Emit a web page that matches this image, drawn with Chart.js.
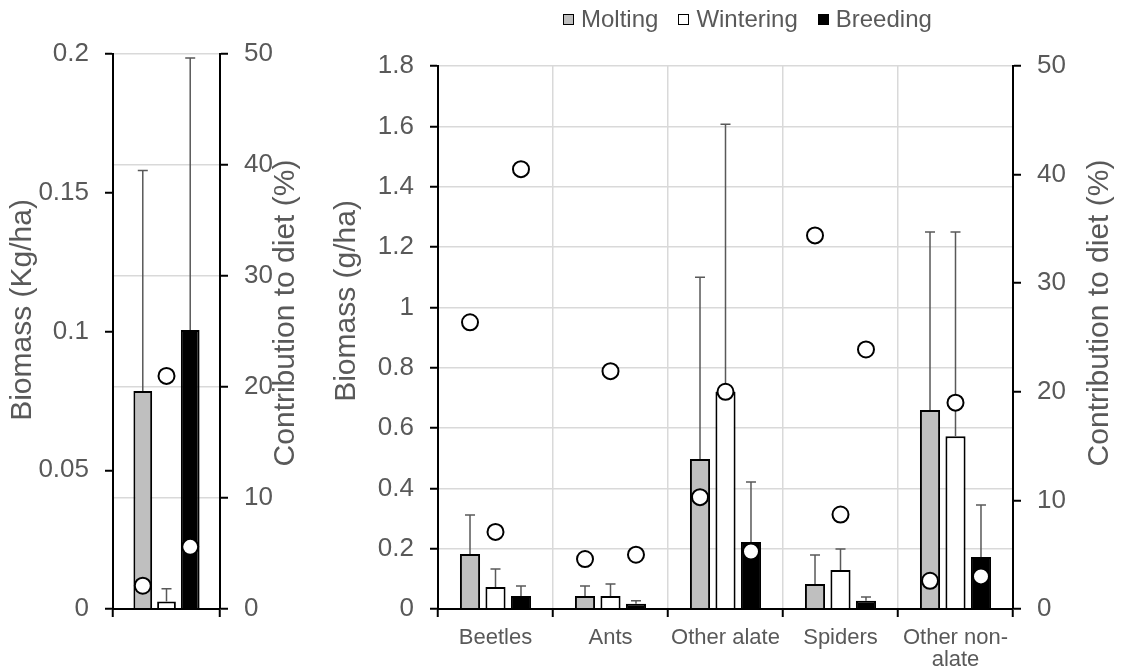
<!DOCTYPE html>
<html>
<head>
<meta charset="utf-8">
<title>Biomass and contribution to diet</title>
<script src="https://cdn.jsdelivr.net/npm/chart.js@4.4.1/dist/chart.umd.min.js"></script>
<style>
  body { margin: 0; width: 1123px; height: 672px; overflow: hidden; background: #fff;
         font-family: "Liberation Sans", Arial, sans-serif; }
  #leftPanel { position: absolute; left: 0; top: 0; }
  #mainPanel { position: absolute; left: 320px; top: 0; }
  #legend { position: absolute; left: 563px; top: 7px; display: flex; align-items: center;
            font-size: 24px; line-height: 24px; color: #595959; white-space: nowrap; }
  #legend .item { display: flex; align-items: center; margin-right: 20px; }
  #legend .box { width: 9px; height: 9px; border: 1.5px solid #000; margin-right: 7px; }
</style>
</head>
<body>
<canvas id="leftPanel" width="320" height="672"></canvas>
<canvas id="mainPanel" width="803" height="672"></canvas>
<div id="legend"></div>
<script>
// prey groups and seasons
const categories = ['Beetles', 'Ants', 'Other alate', 'Spiders', ['Other non-', 'alate']];
const seasons = ['Molting', 'Wintering', 'Breeding'];
const seasonColors = ['#bfbfbf', '#ffffff', '#000000'];

// biomass (g/ha) per prey group, mean and SD
const moltingBiomass   = [0.182, 0.043, 0.497, 0.083, 0.660];
const winteringBiomass = [0.073, 0.043, 0.720, 0.129, 0.573];
const breedingBiomass  = [0.043, 0.017, 0.222, 0.027, 0.172];
const moltingSD   = [0.130, 0.033, 0.603, 0.096, 0.590];
const winteringSD = [0.060, 0.040, 0.887, 0.070, 0.677];
const breedingSD  = [0.033, 0.010, 0.199, 0.013, 0.173];

// contribution to diet (%) per prey group
const moltingDiet   = [26.4, 4.6, 10.3, 34.4, 2.6];
const winteringDiet = [7.1, 21.9, 20.0, 8.7, 19.0];
const breedingDiet  = [40.5, 5.0, 5.3, 23.9, 3.0];

// left panel (Kg/ha), one value per season
const leftBiomass = [0.0786, 0.0027, 0.1005];
const leftSD      = [0.0794, 0.0046, 0.0981];
const leftDiet    = [2.1, 21.0, 5.6];

// tick labels
const leftBiomassTicks = ['0', '0.05', '0.1', '0.15', '0.2'];
const mainBiomassTicks = ['0', '0.2', '0.4', '0.6', '0.8', '1', '1.2', '1.4', '1.6', '1.8'];
const dietTicks = ['0', '10', '20', '30', '40', '50'];

const TEXT = '#595959';
const GRID = '#d9d9d9';
const FONT = '"Liberation Sans", Arial, sans-serif';

Chart.defaults.font.family = FONT;
Chart.defaults.color = TEXT;

// error bars, only upward, drawn right after each bar dataset
const errorBars = {
  id: 'errorBars',
  afterDatasetDraw(chart, args) {
    const ds = chart.data.datasets[args.index];
    if (!ds.errors) return;
    const yScale = chart.scales[args.meta.yAxisID];
    const ctx = chart.ctx;
    ctx.save();
    ctx.strokeStyle = TEXT;
    ctx.lineWidth = 1.5;
    args.meta.data.forEach((bar, i) => {
      const top = yScale.getPixelForValue(ds.data[i] + ds.errors[i]);
      ctx.beginPath();
      ctx.moveTo(bar.x, bar.y);
      ctx.lineTo(bar.x, top);
      ctx.moveTo(bar.x - 5, top);
      ctx.lineTo(bar.x + 5, top);
      ctx.stroke();
    });
    ctx.restore();
  }
};

// diet share: open circle over each bar, placed on the right axis (y2)
const dietPoints = {
  id: 'dietPoints',
  afterDatasetsDraw(chart) {
    const y2 = chart.scales.y2;
    const ctx = chart.ctx;
    ctx.save();
    ctx.fillStyle = '#fff';
    ctx.strokeStyle = '#000';
    ctx.lineWidth = 2;
    chart.data.datasets.forEach((ds, k) => {
      if (!ds.diet) return;
      chart.getDatasetMeta(k).data.forEach((bar, i) => {
        ctx.beginPath();
        ctx.arc(bar.x, y2.getPixelForValue(ds.diet[i]), 8, 0, Math.PI * 2);
        ctx.fill();
        ctx.stroke();
      });
    });
    ctx.restore();
  }
};

// axis titles, both read bottom to top like in the original
const sideTitles = {
  id: 'sideTitles',
  afterDraw(chart, args, opts) {
    const ctx = chart.ctx;
    ctx.save();
    ctx.font = '30px ' + FONT;
    ctx.fillStyle = TEXT;
    ctx.textAlign = 'center';
    ctx.textBaseline = 'middle';
    opts.items.forEach(t => {
      ctx.save();
      ctx.translate(t.x, t.y);
      ctx.rotate(-Math.PI / 2);
      ctx.fillText(t.text, 0, 0);
      ctx.restore();
    });
    ctx.restore();
  }
};

function yAxis(position, max, step, labels, onArea, width) {
  return {
    position: position,
    min: 0,
    max: max,
    ticks: {
      stepSize: step,
      color: TEXT,
      font: { size: 26 },
      padding: 16,
      callback: (v, i) => labels[i]
    },
    grid: { drawOnChartArea: onArea, color: GRID, lineWidth: 1.5, tickColor: '#000', tickWidth: 2, tickLength: 8 },
    border: { color: '#000', width: 2 },
    afterFit: s => { s.width = width; }
  };
}

function buildPanel(id, labels, means, sds, diets, p) {
  const bars = seasons.map((name, k) => ({
    label: name,
    data: means[k],
    errors: sds[k],
    diet: diets[k],
    backgroundColor: seasonColors[k],
    borderColor: '#000',
    borderWidth: 2,
    categoryPercentage: 0.665,
    barPercentage: 0.79,
    yAxisID: 'y'
  }));

  return new Chart(document.getElementById(id), {
    type: 'bar',
    data: { labels: labels, datasets: bars },
    options: {
      responsive: false,
      animation: false,
      events: [],
      layout: { padding: { top: p.top, left: 0, right: 0, bottom: 0 } },
      plugins: {
        legend: { display: false },
        tooltip: { enabled: false },
        sideTitles: { items: p.titles }
      },
      scales: {
        x: {
          grid: { offset: true, drawOnChartArea: p.vGrid, color: GRID, lineWidth: 1.5,
                  tickColor: '#000', tickWidth: 2, tickLength: 8 },
          border: { color: '#000', width: 2, z: 1 },
          ticks: { color: TEXT, font: { size: 22, lineHeight: 1.0 }, padding: 10, maxRotation: 0, autoSkip: false },
          afterFit: s => { s.height = 63; }
        },
        y: yAxis('left', p.yMax, p.yStep, p.yTicks, !p.gridOnDiet, p.leftW),
        y2: yAxis('right', 50, 10, dietTicks, p.gridOnDiet, p.rightW)
      }
    },
    plugins: [errorBars, dietPoints, sideTitles]
  });
}

buildPanel('leftPanel', [''],
  leftBiomass.map(v => [v]), leftSD.map(v => [v]), leftDiet.map(v => [v]),
  { top: 54, leftW: 113, rightW: 100, yMax: 0.2, yStep: 0.05, yTicks: leftBiomassTicks,
    gridOnDiet: true, vGrid: false,
    titles: [{ text: 'Biomass (Kg/ha)', x: 23, y: 310 },
             { text: 'Contribution to diet (%)', x: 286, y: 313 }] });

buildPanel('mainPanel', categories,
  [moltingBiomass, winteringBiomass, breedingBiomass],
  [moltingSD, winteringSD, breedingSD],
  [moltingDiet, winteringDiet, breedingDiet],
  { top: 66, leftW: 118, rightW: 110, yMax: 1.8, yStep: 0.2, yTicks: mainBiomassTicks,
    gridOnDiet: false, vGrid: true,
    titles: [{ text: 'Biomass (g/ha)', x: 27, y: 301 },
             { text: 'Contribution to diet (%)', x: 780, y: 313 }] });

// legend
const legend = document.getElementById('legend');
seasons.forEach((name, k) => {
  const item = document.createElement('div');
  item.className = 'item';
  const box = document.createElement('span');
  box.className = 'box';
  box.style.background = seasonColors[k];
  item.appendChild(box);
  item.appendChild(document.createTextNode(name));
  legend.appendChild(item);
});
</script>
</body>
</html>
